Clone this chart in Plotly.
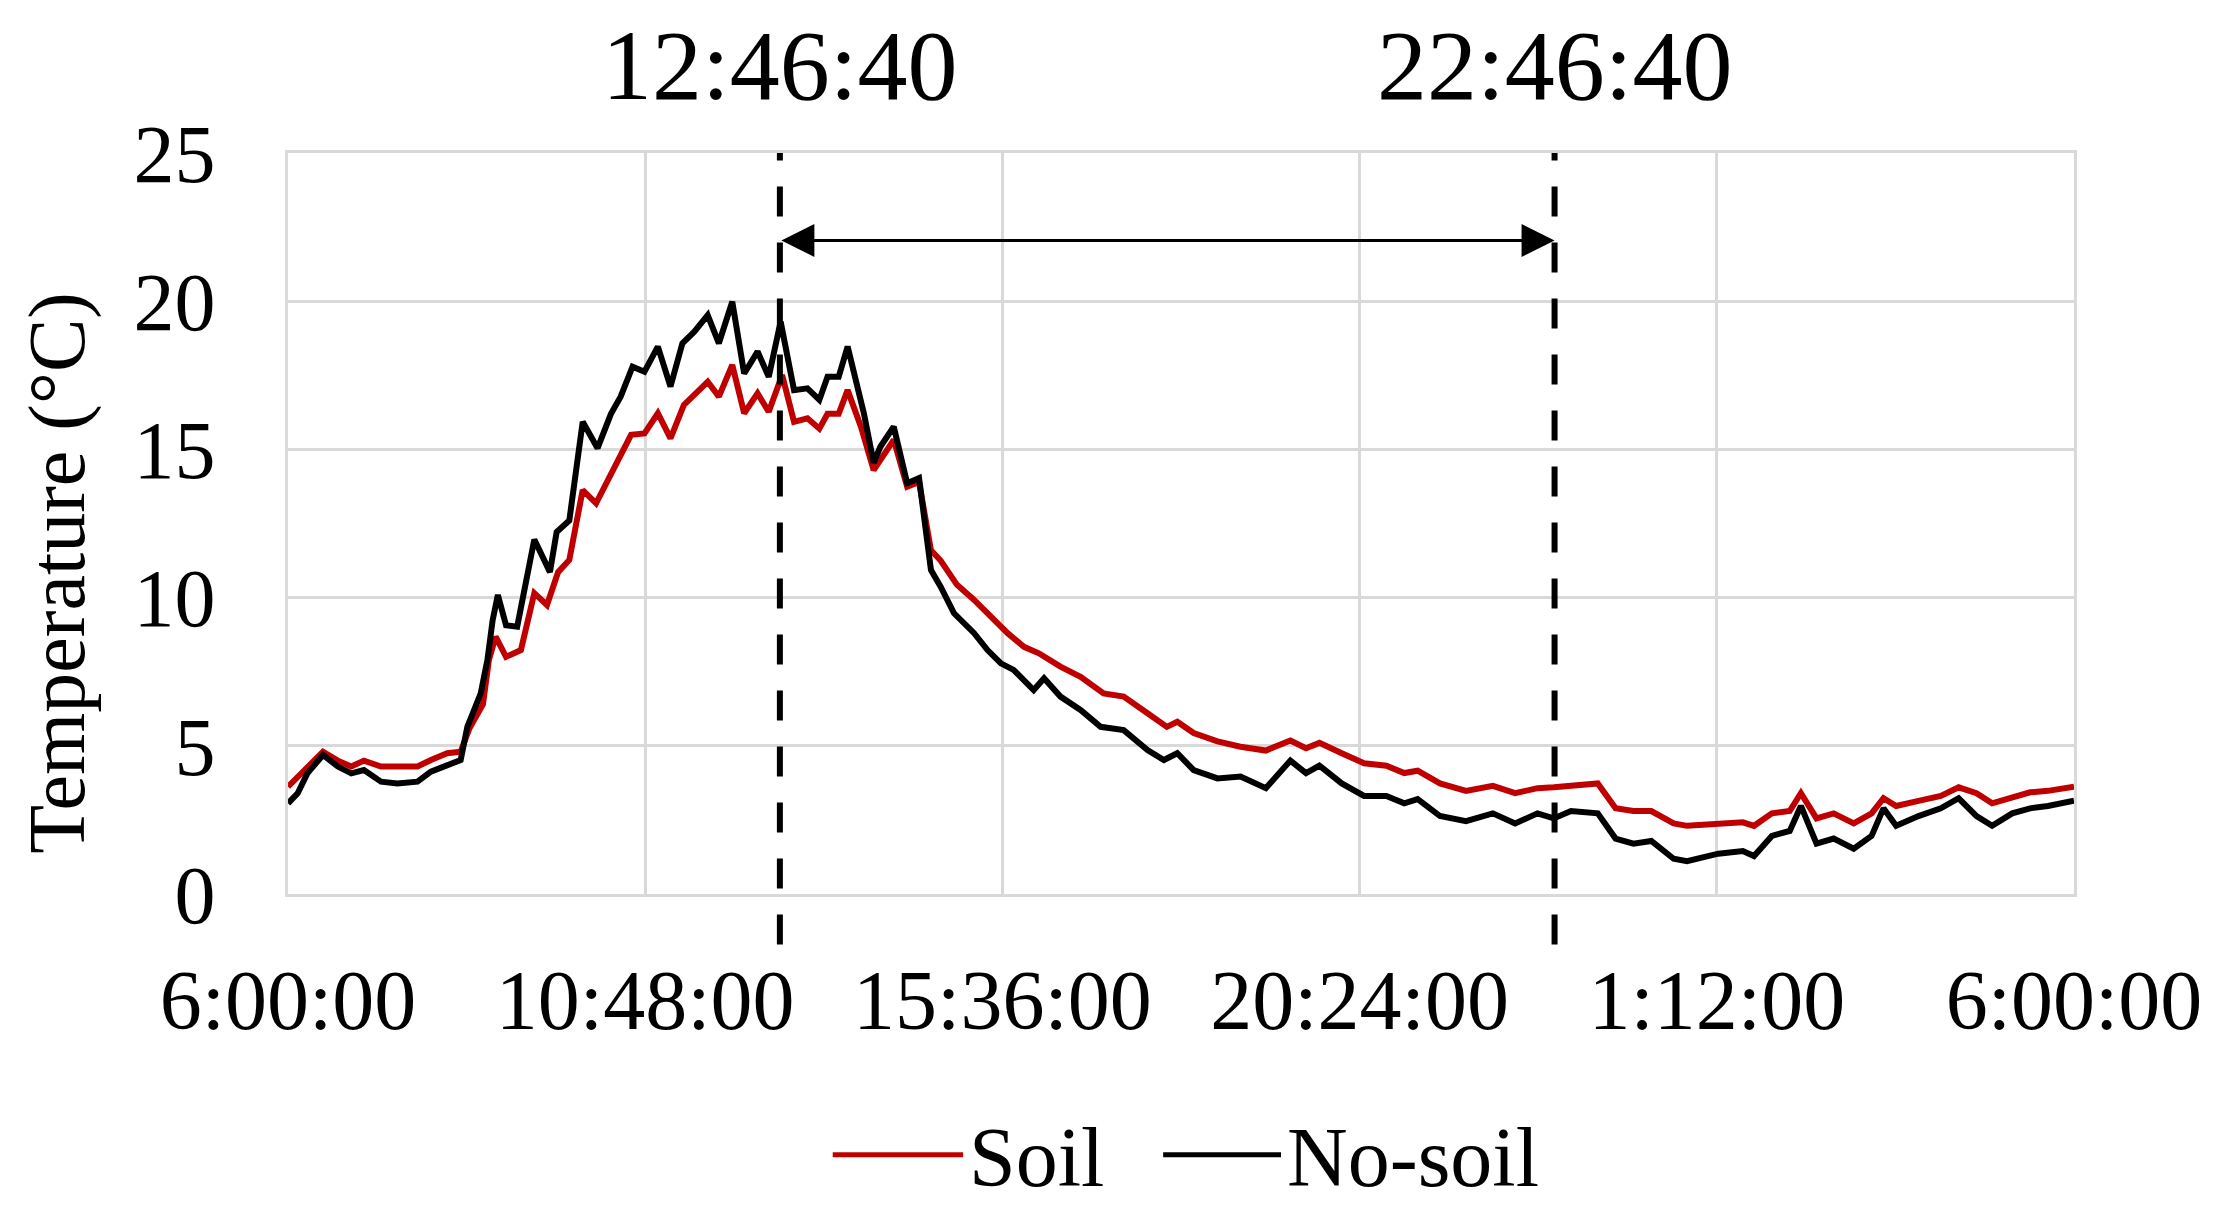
import plotly.graph_objects as go


FONT = "Liberation Serif, Times New Roman, serif"
GRID = "#d9d9d9"
SOIL_COLOR = "#c00000"
NOSOIL_COLOR = "#000000"

# hours after 6:00:00 (start of the 24 h record)
SOIL_HOURS = [
    0.00, 0.26, 0.47, 0.67, 0.85, 1.02, 1.25, 1.47, 1.74, 1.92, 2.14, 2.32,
    2.44, 2.62, 2.70, 2.79, 2.93, 3.13, 3.31, 3.48, 3.63, 3.78, 3.96, 4.14,
    4.34, 4.61, 4.79, 4.97, 5.14, 5.32, 5.48, 5.64, 5.79, 5.97, 6.13, 6.31,
    6.46, 6.64, 6.80, 6.98, 7.14, 7.25, 7.40, 7.52, 7.70, 7.87, 8.14, 8.32,
    8.48, 8.64, 8.77, 8.99, 9.22, 9.44, 9.67, 9.89, 10.09, 10.38, 10.65,
    10.96, 11.23, 11.55, 11.81, 11.95, 12.17, 12.49, 12.80, 13.14, 13.47,
    13.68, 13.86, 14.16, 14.46, 14.76, 15.00, 15.18, 15.48, 15.83, 16.19,
    16.49, 16.79, 17.01, 17.24, 17.60, 17.84, 18.08, 18.32, 18.62, 18.80,
    19.22, 19.55, 19.70, 19.94, 20.18, 20.33, 20.54, 20.77, 21.04, 21.28,
    21.44, 21.61, 21.91, 22.21, 22.45, 22.69, 22.90, 23.17, 23.41, 23.65,
    24.00,
]
SOIL_TEMP = [
    3.62, 4.30, 4.80, 4.50, 4.30, 4.50, 4.30, 4.30, 4.30, 4.52, 4.75, 4.80,
    5.60, 6.40, 7.90, 8.68, 8.00, 8.23, 10.15, 9.75, 10.86, 11.27, 13.63,
    13.18, 14.19, 15.49, 15.54, 16.22, 15.37, 16.50, 16.89, 17.28, 16.78,
    17.85, 16.22, 16.89, 16.27, 17.51, 15.93, 16.05, 15.70, 16.20, 16.20,
    17.00, 15.76, 14.30, 15.32, 13.74, 13.90, 11.60, 11.25, 10.43, 9.92,
    9.36, 8.80, 8.34, 8.12, 7.67, 7.33, 6.77, 6.66, 6.10, 5.64, 5.81, 5.43,
    5.15, 4.97, 4.84, 5.18, 4.92, 5.10, 4.75, 4.41, 4.33, 4.08, 4.16, 3.73,
    3.48, 3.65, 3.40, 3.57, 3.60, 3.65, 3.73, 2.89, 2.80, 2.80, 2.38, 2.30,
    2.35, 2.42, 2.30, 2.72, 2.80, 3.40, 2.55, 2.72, 2.38, 2.72, 3.23, 2.97,
    3.14, 3.31, 3.60, 3.40, 3.06, 3.23, 3.43, 3.48, 3.62,
]

NOSOIL_HOURS = [
    0.00, 0.13, 0.26, 0.47, 0.67, 0.85, 1.02, 1.25, 1.47, 1.74, 1.92, 2.14,
    2.32, 2.41, 2.59, 2.68, 2.75, 2.82, 2.93, 3.08, 3.31, 3.52, 3.61, 3.78,
    3.96, 4.16, 4.34, 4.47, 4.63, 4.79, 4.97, 5.14, 5.30, 5.46, 5.64, 5.79,
    5.97, 6.13, 6.31, 6.46, 6.62, 6.80, 6.98, 7.14, 7.25, 7.40, 7.52, 7.74,
    7.87, 7.96, 8.14, 8.32, 8.48, 8.64, 8.77, 8.95, 9.22, 9.40, 9.58, 9.75,
    10.02, 10.16, 10.38, 10.65, 10.92, 11.23, 11.55, 11.77, 11.95, 12.17,
    12.49, 12.80, 13.14, 13.47, 13.68, 13.86, 14.16, 14.46, 14.76, 15.00,
    15.18, 15.48, 15.83, 16.19, 16.49, 16.79, 17.01, 17.24, 17.60, 17.84,
    18.08, 18.32, 18.62, 18.80, 19.22, 19.55, 19.70, 19.94, 20.18, 20.33,
    20.54, 20.77, 21.04, 21.28, 21.44, 21.61, 21.91, 22.21, 22.45, 22.69,
    22.90, 23.17, 23.41, 23.65, 24.00,
]
NOSOIL_TEMP = [
    3.06, 3.40, 4.07, 4.69, 4.30, 4.07, 4.18, 3.79, 3.73, 3.79, 4.13, 4.35,
    4.52, 5.64, 6.77, 7.90, 9.24, 10.09, 9.07, 9.02, 11.96, 10.86, 12.21,
    12.60, 15.93, 15.04, 16.20, 16.78, 17.79, 17.62, 18.47, 17.12, 18.58,
    18.97, 19.53, 18.58, 19.98, 17.56, 18.30, 17.45, 19.31, 17.00, 17.06,
    16.67, 17.45, 17.45, 18.47, 16.20, 14.55, 15.09, 15.77, 13.86, 14.03,
    10.93, 10.37, 9.47, 8.80, 8.23, 7.78, 7.56, 6.88, 7.28, 6.66, 6.21,
    5.64, 5.53, 4.86, 4.52, 4.75, 4.18, 3.90, 3.96, 3.57, 4.50, 4.08, 4.33,
    3.73, 3.31, 3.31, 3.06, 3.20, 2.63, 2.46, 2.72, 2.38, 2.72, 2.55, 2.80,
    2.72, 1.87, 1.70, 1.79, 1.19, 1.11, 1.36, 1.45, 1.28, 1.96, 2.13, 2.97,
    1.70, 1.87, 1.53, 1.96, 2.89, 2.30, 2.63, 2.89, 3.23, 2.63, 2.30, 2.72,
    2.89, 2.97, 3.15,
]

TICK_HOURS = [0, 4.8, 9.6, 14.4, 19.2, 24]
TICK_LABELS = ["6:00:00", "10:48:00", "15:36:00", "20:24:00", "1:12:00", "6:00:00"]

# dashed markers (as drawn in the source figure) and their labels
MARKER_HOURS = [6.61, 17.02]
MARKER_LABELS = ["12:46:40", "22:46:40"]
ARROW_TEMP = 22.05


# ==================================================
# Figure
# ==================================================

def build_figure():
    fig = go.Figure()

    fig.add_trace(
        go.Scatter(
            x=SOIL_HOURS,
            y=SOIL_TEMP,
            mode="lines",
            name="Soil",
            line=dict(color=SOIL_COLOR, width=6),
        )
    )

    fig.add_trace(
        go.Scatter(
            x=NOSOIL_HOURS,
            y=NOSOIL_TEMP,
            mode="lines",
            name="No-soil",
            line=dict(color=NOSOIL_COLOR, width=6),
        )
    )

    # dashed vertical markers + labels on top
    for hour, label in zip(MARKER_HOURS, MARKER_LABELS):
        fig.add_shape(
            type="line",
            xref="x",
            yref="paper",
            x0=hour,
            x1=hour,
            y0=-0.068,
            y1=1,
            line=dict(color="black", width=6, dash="30px,26px"),
        )
        fig.add_annotation(
            x=hour,
            y=1.118,
            xref="x",
            yref="paper",
            text=label,
            showarrow=False,
            xanchor="center",
            yanchor="middle",
            font=dict(family=FONT, size=100, color="black"),
        )

    # double-headed arrow between markers
    fig.add_annotation(
        x=MARKER_HOURS[1],
        y=ARROW_TEMP,
        ax=MARKER_HOURS[0],
        ay=ARROW_TEMP,
        xref="x",
        yref="y",
        axref="x",
        ayref="y",
        text="",
        showarrow=True,
        arrowside="end+start",
        arrowhead=2,
        startarrowhead=2,
        arrowsize=2.2,
        startarrowsize=2.2,
        arrowwidth=3,
        arrowcolor="black",
    )

    # y axis title
    fig.add_annotation(
        x=-0.129,
        y=0.433,
        xref="paper",
        yref="paper",
        xanchor="center",
        yanchor="middle",
        text="Temperature (°C)",
        textangle=-90,
        showarrow=False,
        font=dict(family=FONT, size=80, color="black"),
    )

    # legend drawn by hand so the line samples are long like the original
    legend_items = [
        ("Soil", SOIL_COLOR, 0.305, 0.378, 0.380),
        ("No-soil", NOSOIL_COLOR, 0.490, 0.556, 0.558),
    ]
    for name, color, x0, x1, tx in legend_items:
        fig.add_shape(
            type="line",
            xref="paper",
            yref="paper",
            x0=x0,
            x1=x1,
            y0=-0.352,
            y1=-0.352,
            line=dict(color=color, width=5),
        )
        fig.add_annotation(
            x=tx,
            y=-0.355,
            xref="paper",
            yref="paper",
            text=name,
            showarrow=False,
            xanchor="left",
            yanchor="middle",
            font=dict(family=FONT, size=84, color="black"),
        )

    fig.update_xaxes(
        range=[0, 24],
        tickvals=TICK_HOURS,
        ticktext=TICK_LABELS,
        showgrid=True,
        gridcolor=GRID,
        gridwidth=3,
        showline=True,
        linecolor=GRID,
        linewidth=3,
        mirror=True,
        zeroline=False,
        ticks="",
        ticklabelstandoff=31,
        tickfont=dict(family=FONT, size=84, color="black"),
    )

    fig.update_yaxes(
        range=[0, 25],
        tickvals=[0, 5, 10, 15, 20, 25],
        showgrid=True,
        gridcolor=GRID,
        gridwidth=3,
        showline=True,
        linecolor=GRID,
        linewidth=3,
        mirror=True,
        zeroline=False,
        ticks="",
        ticklabelstandoff=53,
        tickfont=dict(family=FONT, size=82, color="black"),
    )

    # the page body adds an 8 px offset, so the figure is 8 px smaller
    fig.update_layout(
        width=2210,
        height=1206,
        margin=dict(l=280, r=144, t=145, b=320),
        paper_bgcolor="white",
        plot_bgcolor="white",
        showlegend=False,
    )

    return fig


fig = build_figure()
fig.write_html("out.html")
